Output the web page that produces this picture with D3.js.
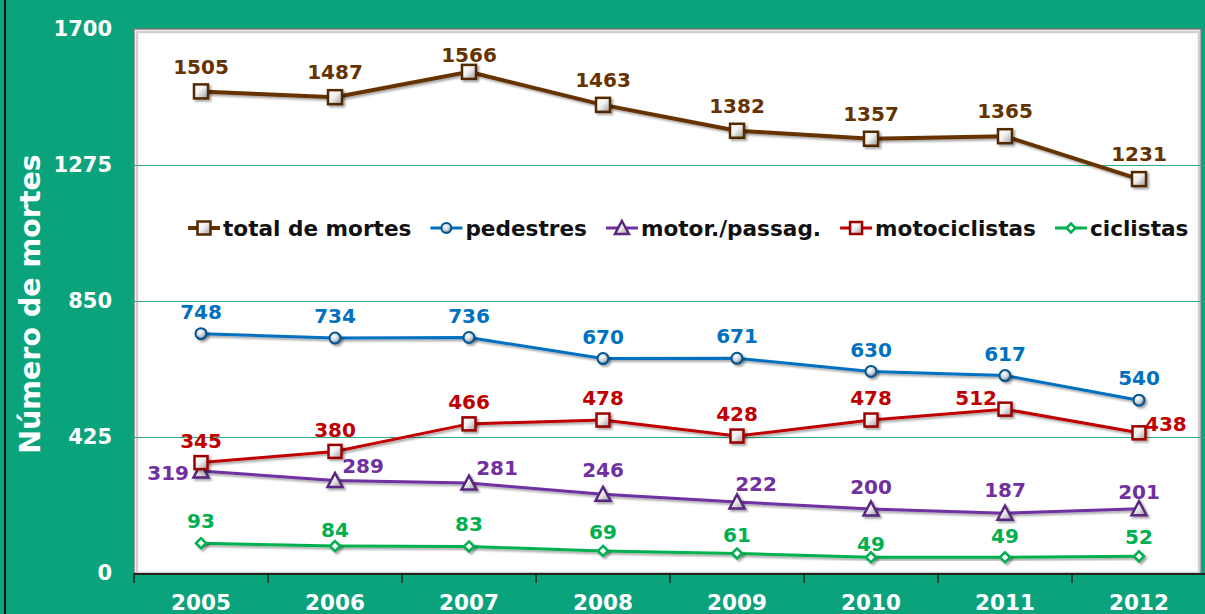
<!DOCTYPE html>
<html>
<head>
<meta charset="utf-8">
<script src="https://cdn.jsdelivr.net/npm/d3@7"></script>
<style>
  body { margin: 0; background: #0aa37c; }
  svg { display: block; font-family: "DejaVu Sans", Verdana, sans-serif; font-weight: bold; }
</style>
</head>
<body>
<svg id="chart"></svg>
<script>
var years = ["2005", "2006", "2007", "2008", "2009", "2010", "2011", "2012"];
var yTicks = [0, 425, 850, 1275, 1700];

var total = [1505, 1487, 1566, 1463, 1382, 1357, 1365, 1231];
var pedestres = [748, 734, 736, 670, 671, 630, 617, 540];
var motor = [319, 289, 281, 246, 222, 200, 187, 201];
var motociclistas = [345, 380, 466, 478, 428, 478, 512, 438];
var ciclistas = [93, 84, 83, 69, 61, 49, 49, 52];

var names = ["total de mortes", "pedestres", "motor./passag.", "motociclistas", "ciclistas"];

var w = 1205;
var h = 614;
var margin = { top: 29, bottom: 40, left: 134, right: -1 };

// label nudges (dx, dy from the point, anchor) - styling only
var nudges = {
  "total de mortes": function(d, i) { return i == 2 ? [0, -17] : [0, -25]; },
  "pedestres": function(d, i) { return [0, -22]; },
  "motor./passag.": function(d, i) {
    var n = [[-12, 2, "end"], [28, -15], [28, -15], [0, -24], [19, -18], [0, -22], [0, -23], [0, -17]];
    return n[i];
  },
  "motociclistas": function(d, i) {
    if (i == 6) return [-8, -11, "end"];
    if (i == 7) return [6, -9, "start"];
    return [0, -22];
  },
  "ciclistas": function(d, i) {
    var n = [-22, -16, -23, -19, -19, -14, -22, -20];
    return [0, n[i]];
  }
};

var series = [
  { name: names[0], values: total, color: "#663300", width: 4, marker: "square", size: 14 },
  { name: names[1], values: pedestres, color: "#0070c0", width: 3, marker: "circle", size: 11 },
  { name: names[2], values: motor, color: "#7030a0", width: 3, marker: "triangle", size: 13 },
  { name: names[3], values: motociclistas, color: "#c00000", width: 3, marker: "square", size: 13 },
  { name: names[4], values: ciclistas, color: "#00b050", width: 3, marker: "diamond", size: 10 }
];

var svg = d3.select("#chart")
  .attr("width", w)
  .attr("height", h);

var defs = svg.append("defs");
var shadow = defs.append("filter").attr("id", "shadow")
  .attr("x", "-20%").attr("y", "-20%").attr("width", "140%").attr("height", "140%");
shadow.append("feDropShadow")
  .attr("dx", 2).attr("dy", 2).attr("stdDeviation", 1.2)
  .attr("flood-color", "#000").attr("flood-opacity", 0.35);

var grad = defs.append("linearGradient").attr("id", "boxfill")
  .attr("x1", 0).attr("y1", 0).attr("x2", 1).attr("y2", 1);
grad.append("stop").attr("offset", "0%").attr("stop-color", "#ffffff");
grad.append("stop").attr("offset", "45%").attr("stop-color", "#f2f2f2");
grad.append("stop").attr("offset", "100%").attr("stop-color", "#9a9a9a");

var ball = defs.append("radialGradient").attr("id", "ballfill")
  .attr("cx", "40%").attr("cy", "35%").attr("r", "65%");
ball.append("stop").attr("offset", "0%").attr("stop-color", "#ffffff");
ball.append("stop").attr("offset", "60%").attr("stop-color", "#c8d0d8");
ball.append("stop").attr("offset", "100%").attr("stop-color", "#5a6a7a");

// background and left black edge
svg.append("rect").attr("x", 0).attr("y", 0).attr("width", w).attr("height", h).attr("fill", "#0aa37c");
svg.append("line").attr("x1", 5).attr("x2", 5).attr("y1", 0).attr("y2", h)
  .attr("stroke", "#111").attr("stroke-width", 2);

var xScale = d3.scaleBand()
  .domain(years)
  .range([margin.left, w - margin.right]);

var yScale = d3.scaleLinear()
  .domain([0, 1700])
  .range([h - margin.bottom - 1, margin.top]);

var plotBottom = yScale(0);

// plot frame
svg.append("rect")
  .attr("x", margin.left).attr("y", margin.top)
  .attr("width", 1201 - margin.left).attr("height", plotBottom - margin.top)
  .attr("fill", "#ffffff").attr("stroke", "#7a7a7a").attr("stroke-width", 1.5);
svg.append("rect")
  .attr("x", margin.left + 3).attr("y", margin.top + 3)
  .attr("width", 1201 - margin.left - 5).attr("height", plotBottom - margin.top - 3)
  .attr("fill", "none").attr("stroke", "#cfcfcf").attr("stroke-width", 2.5);

// gridlines
svg.append("g").selectAll("line")
  .data(yTicks.filter(function(d) { return d > 0 && d < 1700; }))
  .enter().append("line")
  .attr("x1", margin.left).attr("x2", w)
  .attr("y1", function(d) { return Math.round(yScale(d)) + 0.5; })
  .attr("y2", function(d) { return Math.round(yScale(d)) + 0.5; })
  .attr("stroke", "#2fae88").attr("stroke-width", 1.2);

// y axis
var yAxis = d3.axisLeft(yScale).tickValues(yTicks).tickFormat(d3.format("d")).tickSize(0).tickPadding(0);
var gy = svg.append("g")
  .attr("transform", "translate(112,0)")
  .call(yAxis);
gy.select(".domain").remove();
gy.selectAll("text")
  .attr("fill", "#fff")
  .style("font-size", "21px")
  .style("font-family", "DejaVu Sans")
  .style("font-weight", "bold");

svg.append("text")
  .attr("transform", "translate(40,304) rotate(-90)")
  .attr("text-anchor", "middle")
  .attr("fill", "#fff")
  .style("font-size", "28.5px")
  .text("Número de mortes");

// x axis
var xAxis = d3.axisBottom(xScale).tickSize(0).tickPadding(22);
var gx = svg.append("g")
  .attr("transform", "translate(0," + plotBottom + ")")
  .call(xAxis);
gx.select(".domain").remove();
gx.selectAll("text")
  .attr("fill", "#fff")
  .style("font-size", "21.5px")
  .style("font-family", "DejaVu Sans")
  .style("font-weight", "bold");

svg.append("line")
  .attr("x1", margin.left).attr("x2", w)
  .attr("y1", plotBottom + 1).attr("y2", plotBottom + 1)
  .attr("stroke", "#222").attr("stroke-width", 2);

var bounds = years.map(function(d) { return xScale(d); }).concat([xScale.range()[1]]);
svg.append("g").selectAll("line")
  .data(bounds)
  .enter().append("line")
  .attr("x1", function(d) { return d; }).attr("x2", function(d) { return d; })
  .attr("y1", plotBottom).attr("y2", plotBottom + 10)
  .attr("stroke", "#222").attr("stroke-width", 1.5);

function cx(i) { return xScale(years[i]) + xScale.bandwidth() / 2; }

function drawMarker(g, s, x, y) {
  var r = s.size / 2;
  if (s.marker == "square") {
    g.append("rect")
      .attr("x", x - r).attr("y", y - r).attr("width", s.size).attr("height", s.size)
      .attr("fill", "url(#boxfill)")
      .attr("stroke", d3.color(s.color).darker(0.6)).attr("stroke-width", 2.5);
  } else if (s.marker == "circle") {
    g.append("circle").attr("cx", x).attr("cy", y).attr("r", r)
      .attr("fill", "url(#ballfill)")
      .attr("stroke", d3.color(s.color).darker(0.8)).attr("stroke-width", 2);
  } else if (s.marker == "triangle") {
    g.append("path")
      .attr("d", "M" + x + "," + (y - r - 1) + "L" + (x + r + 1) + "," + (y + r) + "L" + (x - r - 1) + "," + (y + r) + "Z")
      .attr("fill", "url(#boxfill)")
      .attr("stroke", d3.color(s.color).darker(0.6)).attr("stroke-width", 2.5);
  } else {
    g.append("path")
      .attr("d", "M" + x + "," + (y - r) + "L" + (x + r) + "," + y + "L" + x + "," + (y + r) + "L" + (x - r) + "," + y + "Z")
      .attr("fill", "#fff")
      .attr("stroke", s.color).attr("stroke-width", 2.5);
  }
}

var line = d3.line()
  .x(function(d, i) { return cx(i); })
  .y(function(d) { return yScale(d); });

series.forEach(function(s) {
  var g = svg.append("g");
  g.append("path")
    .datum(s.values)
    .attr("d", line)
    .attr("fill", "none")
    .attr("stroke", s.color)
    .attr("stroke-width", s.width)
    .attr("filter", "url(#shadow)");
  var mg = g.append("g").attr("filter", "url(#shadow)");
  s.values.forEach(function(v, i) {
    drawMarker(mg, s, cx(i), yScale(v));
  });
  g.selectAll("text.lbl")
    .data(s.values)
    .enter().append("text")
    .attr("class", "lbl")
    .attr("x", function(d, i) { return cx(i) + nudges[s.name](d, i)[0]; })
    .attr("y", function(d, i) { return yScale(d) + nudges[s.name](d, i)[1]; })
    .attr("dy", "0.36em")
    .attr("text-anchor", function(d, i) { return nudges[s.name](d, i)[2] || "middle"; })
    .attr("fill", s.color)
    .style("font-size", "20px")
    .text(function(d) { return d; });
});

// legend
var lx = 188;
var ly = 228;
series.forEach(function(s) {
  var lg = svg.append("g");
  lg.append("line")
    .attr("x1", lx).attr("x2", lx + 32)
    .attr("y1", ly).attr("y2", ly)
    .attr("stroke", s.color).attr("stroke-width", s.width);
  var ms = { marker: s.marker, color: s.color, size: s.size - 1 };
  drawMarker(lg, ms, lx + 16, ly);
  var t = lg.append("text")
    .attr("x", lx + 35).attr("y", ly).attr("dy", "0.36em")
    .attr("fill", "#111")
    .style("font-size", "21.6px")
    .text(s.name);
  lx += 35 + t.node().getComputedTextLength() + 19;
});
</script>
</body>
</html>
